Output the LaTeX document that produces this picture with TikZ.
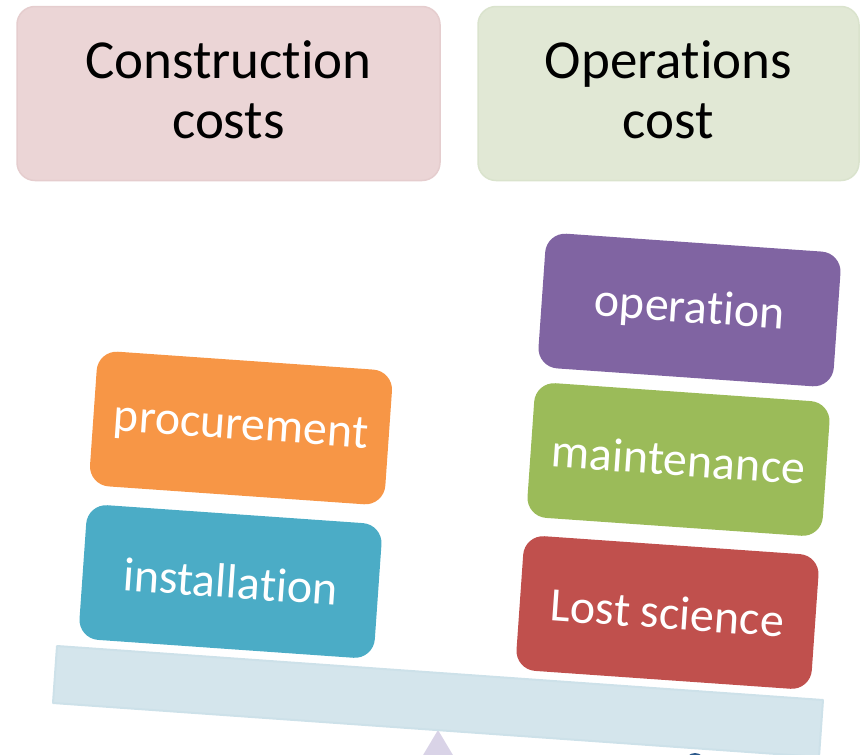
\documentclass[tikz,border=0pt]{standalone}
\usepackage{fontspec}
\setmainfont{Carlito}[Ligatures={NoCommon}]
\definecolor{hdrA}{HTML}{EBD5D6}
\definecolor{hdrAline}{HTML}{E5CDCE}
\definecolor{hdrB}{HTML}{E1E8D5}
\definecolor{hdrBline}{HTML}{DAE3CD}
\definecolor{accOrange}{HTML}{F79646}
\definecolor{accBlue}{HTML}{4BACC6}
\definecolor{accPurple}{HTML}{8064A2}
\definecolor{accGreen}{HTML}{9BBB59}
\definecolor{accRed}{HTML}{C0504D}
\definecolor{beamFill}{HTML}{D4E5EC}
\definecolor{beamLine}{HTML}{CDE1E9}
\definecolor{pivotFill}{HTML}{D9D3E7}
\definecolor{dotFill}{HTML}{2C5A8C}
% two-line heading with 60pt line pitch
\newcommand{\twolines}[2]{\begin{tabular}{@{}c@{}}\rule{0pt}{47pt}#1\\#2\end{tabular}}
\begin{document}
\begin{tikzpicture}[x=1pt,y=-1pt,
  header/.style={rounded corners=18pt, minimum height=174pt, inner sep=0pt,
    text=black, line width=1.5pt,
    font=\fontsize{55}{60}\selectfont},
  block/.style={rounded corners=20pt, minimum width=296pt, minimum height=135pt,
    inner sep=0pt, rotate=-4, text=white,
    font=\fontsize{48}{56}\selectfont}]
\useasboundingbox (0,0) rectangle (860,755);
\clip (0,0) rectangle (860,755);

% headings
\node[header, fill=hdrA, draw=hdrAline, minimum width=423pt] (cons) at (228.5,93.5)
  {\twolines{Construction}{costs}};
\node[header, fill=hdrB, draw=hdrBline, minimum width=381pt] (ops) at (668.5,93.5)
  {\twolines{Operations}{cost}};

% pivot and marker under the beam
\coordinate (apex) at (438,730);
\fill[pivotFill] (apex) -- (469,782) -- (407,782) -- cycle;
\fill[dotFill] (695,763) circle (10);

% tilted beam
\coordinate (bTL) at (57,646);
\coordinate (bTR) at (823,700);
\coordinate (bBR) at (819,757);
\coordinate (bBL) at (53,703);
\filldraw[fill=beamFill, draw=beamLine, line width=2pt, line join=round]
  (bTL) -- (bTR) -- (bBR) -- (bBL) -- cycle;

% left pile
\node[block, fill=accOrange] (proc) at (241,428) {procurement};
\node[block, fill=accBlue] (inst) at (230.5,581.5) {installation};

% right pile
\node[block, fill=accPurple] (oper) at (689.5,310) {operation};
\node[block, fill=accGreen] (maint) at (678.5,459.5) {maintenance};
\node[block, fill=accRed] (lost) at (667.5,612.5) {Lost science};
\end{tikzpicture}
\end{document}
